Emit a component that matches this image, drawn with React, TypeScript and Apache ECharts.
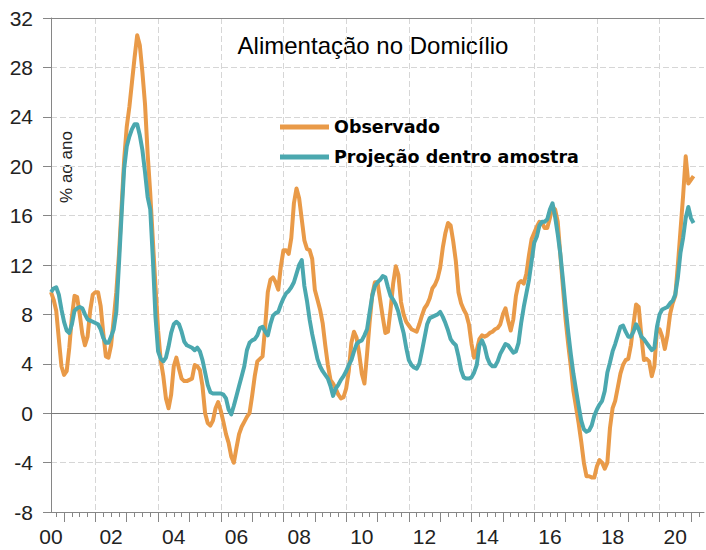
import React, { useEffect, useRef } from 'react';
import * as echarts from 'echarts';

// Monthly series, first month = Aug 2000
const START_YEAR = 2000;
const START_MONTH = 8;
const AXIS_MONTHS = 251; // axis runs a few months past the last observation

const tickYears = [2000, 2002, 2004, 2006, 2008, 2010, 2012, 2014, 2016, 2018, 2020];
const tickLabels = ['00', '02', '04', '06', '08', '10', '12', '14', '16', '18', '20'];
const yTicks = [-8, -4, 0, 4, 8, 12, 16, 20, 24, 28, 32];

const seriesNames = ['Observado', 'Projeção dentro amostra'];

const observado = [
  9.8, 9.2, 8.3, 6.0, 3.8, // 2000 Aug-Dec
  3.1, 3.4, 5.3, 7.8, 9.5, 9.4, 8.0, 6.4, 5.5, 6.2, 8.3, 9.6, // 2001
  9.8, 9.8, 8.7, 6.5, 4.6, 4.5, 5.5, 7.6, 9.8, 12.8, 16.6, 20.5, // 2002
  23.2, 24.8, 26.8, 28.8, 30.6, 29.8, 27.6, 25.0, 21.0, 17.8, 14.0, 10.3, // 2003
  6.7, 4.3, 3.0, 1.2, 0.4, 1.5, 3.8, 4.5, 3.6, 2.8, 2.6, 2.6, // 2004
  2.7, 2.8, 3.9, 3.8, 3.5, 2.2, 0.0, -0.8, -1.0, -0.6, 0.4, 0.9, // 2005
  0.2, -0.7, -1.7, -2.4, -3.5, -4.0, -2.8, -1.7, -1.1, -0.7, -0.3, 0.0, // 2006
  1.4, 3.0, 4.2, 4.4, 4.6, 7.0, 9.8, 10.8, 11.0, 10.6, 10.0, 11.9, // 2007
  13.2, 13.2, 12.9, 14.2, 17.0, 18.2, 17.4, 15.7, 14.0, 13.3, 13.2, 12.5, // 2008
  10.0, 9.2, 8.4, 7.3, 5.5, 3.9, 2.7, 2.4, 2.0, 1.5, 1.2, 1.3, // 2009
  2.0, 3.4, 5.7, 6.6, 6.1, 4.8, 3.2, 2.4, 4.8, 7.4, 9.6, 10.6, // 2010
  10.6, 9.2, 7.8, 6.5, 6.6, 8.4, 10.5, 11.9, 11.2, 9.0, 8.0, 7.4, // 2011
  7.1, 6.8, 6.7, 6.6, 7.2, 7.9, 8.5, 8.8, 9.3, 10.1, 10.4, 10.9, // 2012
  11.8, 13.4, 14.6, 15.4, 15.2, 13.9, 12.3, 9.8, 8.9, 8.4, 8.0, 7.2, // 2013
  5.6, 4.5, 5.1, 6.0, 6.3, 6.2, 6.3, 6.5, 6.6, 6.8, 6.9, 7.2, // 2014
  8.0, 8.5, 7.5, 6.7, 7.6, 9.5, 10.5, 10.7, 10.5, 11.3, 12.8, 14.1, // 2015
  14.6, 15.1, 15.5, 15.4, 15.0, 15.0, 15.8, 16.7, 16.5, 15.5, 12.8, 10.2, // 2016
  7.6, 5.6, 3.8, 1.8, 0.5, -0.8, -2.3, -4.0, -5.1, -5.1, -5.2, -5.2, // 2017
  -4.3, -3.8, -4.0, -4.5, -4.0, -1.2, 0.4, 1.0, 2.1, 3.2, 3.9, 4.3, // 2018
  4.4, 5.5, 7.2, 8.8, 8.6, 6.3, 4.3, 4.4, 4.2, 3.0, 3.8, 6.8, // 2019
  6.8, 6.2, 5.2, 6.3, 8.0, 8.9, 9.5, 12.0, 14.8, 17.6, 20.8, 18.6, // 2020
  18.9, 19.2, // 2021 Jan-Feb
];

const projecao = [
  9.8, 10.1, 10.2, 9.6, 8.4, // 2000 Aug-Dec
  7.4, 6.7, 6.5, 7.2, 8.3, 8.5, 8.6, 8.5, 8.0, 7.6, 7.5, 7.4, // 2001
  7.3, 7.2, 6.8, 6.1, 5.7, 5.7, 6.2, 6.8, 8.2, 12.0, 16.0, 19.8, // 2002
  21.6, 22.4, 23.0, 23.4, 23.4, 22.5, 21.3, 19.5, 17.5, 16.5, 12.5, 7.8, // 2003
  5.0, 4.4, 4.2, 4.5, 5.4, 6.5, 7.2, 7.4, 7.2, 6.6, 5.8, 5.5, // 2004
  5.4, 5.3, 5.1, 5.3, 5.0, 4.3, 3.3, 2.3, 1.7, 1.6, 1.6, 1.6, // 2005
  1.6, 1.5, 1.2, 0.3, -0.1, 0.6, 1.4, 2.2, 3.0, 3.8, 5.1, 5.7, // 2006
  5.9, 6.0, 6.3, 6.9, 7.0, 6.6, 6.3, 7.2, 7.9, 8.1, 8.2, 8.8, // 2007
  9.3, 9.7, 9.9, 10.2, 10.6, 11.3, 12.0, 12.4, 10.3, 9.1, 7.6, 6.4, // 2008
  5.4, 4.4, 3.8, 3.4, 3.1, 2.8, 2.2, 1.4, 2.0, 2.3, 2.7, 3.0, // 2009
  3.4, 3.9, 4.3, 5.0, 5.6, 5.8, 5.9, 6.3, 6.8, 8.2, 9.5, 10.3, // 2010
  10.6, 10.8, 11.1, 11.0, 10.2, 9.5, 9.2, 8.8, 8.2, 7.3, 6.5, 5.3, // 2011
  4.3, 3.9, 3.7, 3.6, 4.0, 5.0, 6.1, 7.2, 7.7, 7.8, 7.9, 8.0, // 2012
  8.2, 7.8, 7.3, 6.7, 6.0, 5.7, 5.5, 4.6, 3.5, 2.9, 2.8, 2.8, // 2013
  2.9, 3.3, 3.9, 5.5, 5.9, 5.4, 4.5, 4.0, 3.8, 3.8, 4.2, 4.8, // 2014
  5.2, 5.6, 5.5, 5.2, 4.9, 5.0, 5.7, 7.3, 8.6, 9.7, 10.8, 12.3, // 2015
  13.8, 14.3, 15.2, 15.5, 15.5, 15.7, 16.5, 17.0, 15.9, 14.5, 12.9, 10.8, // 2016
  8.6, 6.6, 4.8, 3.2, 1.9, 0.6, -0.6, -1.3, -1.5, -1.4, -1.0, -0.2, // 2017
  0.3, 0.7, 1.0, 1.8, 3.3, 4.1, 5.0, 5.6, 6.3, 7.0, 7.1, 6.6, // 2018
  6.2, 6.2, 6.6, 7.2, 6.8, 6.2, 6.0, 5.7, 5.4, 5.1, 5.3, 7.0, // 2019
  8.0, 8.4, 8.5, 8.6, 8.9, 9.1, 9.6, 11.0, 13.0, 14.2, 15.8, 16.7, // 2020
  15.8, 15.4, // 2021 Jan-Feb
];

const categories: string[] = [];
for (let i = 0; i < AXIS_MONTHS; i++) {
  const t = START_MONTH - 1 + i;
  const y = START_YEAR + Math.floor(t / 12);
  const mo = (t % 12) + 1;
  categories.push(`${y}-${String(mo).padStart(2, '0')}`);
}

const parseCat = (v: string) => [Number(v.slice(0, 4)), Number(v.slice(5, 7))];

const AXIS_COLOR = '#868686';
const GRID_COLOR = '#d6d6d6';
const LABEL_FONT = "'Liberation Sans', Arial, sans-serif";

export default function App() {
  const ref = useRef<HTMLDivElement>(null);

  useEffect(() => {
    document.body.style.margin = '0';
    if (!ref.current) return;
    const chart = echarts.init(ref.current, undefined, { renderer: 'svg' });

    const option: any = {
      animation: false,
      backgroundColor: '#ffffff',
      grid: { left: 51, top: 18, width: 653, height: 494, containLabel: false },
      legend: {
        orient: 'vertical',
        left: 275,
        top: 112,
        itemWidth: 49,
        itemHeight: 5,
        itemGap: 10,
        icon: 'rect',
        data: seriesNames,
        textStyle: {
          fontFamily: "'DejaVu Sans', sans-serif",
          fontWeight: 'bold',
          fontSize: 17.5,
          lineHeight: 20,
          color: '#000',
        },
      },
      graphic: [
        {
          type: 'text',
          x: 373,
          y: 45,
          style: {
            text: 'Alimentação no Domicílio',
            fontFamily: LABEL_FONT,
            fontSize: 24,
            fill: '#000',
            align: 'center',
            verticalAlign: 'middle',
          },
        },
        {
          type: 'text',
          x: 66,
          y: 167,
          rotation: Math.PI / 2,
          style: {
            text: '% ao ano',
            fontFamily: LABEL_FONT,
            fontSize: 17,
            fill: '#222',
            align: 'center',
            verticalAlign: 'middle',
          },
        },
      ],
      xAxis: [
        {
          type: 'category',
          data: categories,
          boundaryGap: false,
          position: 'bottom',
          axisLine: { onZero: false, lineStyle: { color: AXIS_COLOR, width: 1 } },
          axisTick: {
            show: true,
            length: 5,
            lineStyle: { color: AXIS_COLOR },
            interval: (_i: number, v: string) => {
              const [, mo] = parseCat(v);
              return (mo - 1) % 3 === 0;
            },
          },
          axisLabel: {
            show: true,
            margin: 14,
            fontSize: 21,
            fontFamily: LABEL_FONT,
            color: '#222',
            interval: (i: number, v: string) => {
              const [y, mo] = parseCat(v);
              if (i === 0) return true;
              return mo === 7 && tickYears.indexOf(y) >= 0 && y !== START_YEAR;
            },
            formatter: (v: string) => {
              const [y] = parseCat(v);
              const k = tickYears.indexOf(y);
              return k >= 0 ? tickLabels[k] : '';
            },
          },
          splitLine: {
            show: true,
            lineStyle: { color: GRID_COLOR, type: [6, 3], width: 1 },
            interval: (_i: number, v: string) => {
              const [y, mo] = parseCat(v);
              return mo === 1 && y % 2 === 0;
            },
          },
        },
        {
          type: 'category',
          data: categories,
          boundaryGap: false,
          position: 'bottom',
          axisLine: { show: false, onZero: false },
          axisTick: {
            show: true,
            length: 10,
            lineStyle: { color: AXIS_COLOR },
            interval: (_i: number, v: string) => parseCat(v)[1] === 1,
          },
          axisLabel: { show: false },
          splitLine: { show: false },
        },
        {
          type: 'category',
          data: categories,
          boundaryGap: false,
          position: 'top',
          axisLine: { show: true, onZero: false, lineStyle: { color: AXIS_COLOR, width: 1 } },
          axisTick: { show: false },
          axisLabel: { show: false },
          splitLine: { show: false },
        },
      ],
      yAxis: {
        type: 'value',
        min: yTicks[0],
        max: yTicks[yTicks.length - 1],
        interval: 4,
        axisLine: { show: true, lineStyle: { color: AXIS_COLOR, width: 1 } },
        axisTick: { show: true, length: 8, lineStyle: { color: AXIS_COLOR } },
        axisLabel: {
          margin: 18,
          fontSize: 21,
          fontFamily: LABEL_FONT,
          color: '#222',
        },
        splitLine: { show: true, lineStyle: { color: GRID_COLOR, type: [6, 3], width: 1 } },
      },
      series: [
        {
          name: seriesNames[0],
          type: 'line',
          data: observado,
          xAxisIndex: 0,
          showSymbol: false,
          symbol: 'none',
          color: '#E99A48',
          lineStyle: { width: 4, color: '#E99A48', join: 'round' },
          z: 2,
          markLine: {
            silent: true,
            symbol: 'none',
            label: { show: false },
            lineStyle: { color: '#7a7a7a', type: 'solid', width: 1 },
            data: [{ yAxis: 0 }],
            z: 1,
          },
        },
        {
          name: seriesNames[1],
          type: 'line',
          data: projecao,
          xAxisIndex: 0,
          showSymbol: false,
          symbol: 'none',
          color: '#4BA8AF',
          lineStyle: { width: 4, color: '#4BA8AF', join: 'round' },
          z: 3,
        },
      ],
    };

    chart.setOption(option);
    return () => chart.dispose();
  }, []);

  return (
    <div
      ref={ref}
      style={{ position: 'absolute', left: 0, top: 0, width: 706, height: 550 }}
    />
  );
}
